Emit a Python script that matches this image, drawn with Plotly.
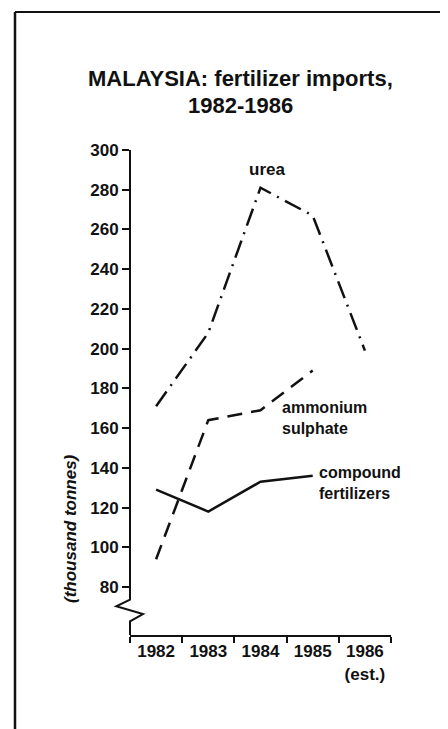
import plotly.graph_objects as go

# ---- data ----
years = ["1982", "1983", "1984", "1985", "1986<br>(est.)"]
urea = [171, 208, 281, 267, 199]
ammonium_sulphate = [94, 164, 169, 189]
compound_fertilizers = [129, 118, 133, 136]
y_ticks = [80, 100, 120, 140, 160, 180, 200, 220, 240, 260, 280, 300]

W, H = 448, 729
L, R, T, B = 122, 65, 142, 102
PW, PH = W - L - R, H - T - B
Y_MIN, Y_MAX = 55.85, 300

def px(xp):
    return (xp - L) / PW

def py(yp):
    return (H - B - yp) / PH

FONT = "Liberation Sans, Arial, sans-serif"
INK = "#111111"

fig = go.Figure()
fig.add_trace(go.Scatter(x=years, y=urea, mode="lines",
                         line=dict(color=INK, width=2.5, dash="18px,7px,2px,7px")))
fig.add_trace(go.Scatter(x=years[:len(ammonium_sulphate)], y=ammonium_sulphate, mode="lines",
                         line=dict(color=INK, width=2.5, dash="15px,9px")))
fig.add_trace(go.Scatter(x=years[:len(compound_fertilizers)], y=compound_fertilizers, mode="lines",
                         line=dict(color=INK, width=2.5)))

tickfont = dict(family=FONT, size=17, color=INK, weight="bold")

fig.update_layout(
    width=W, height=H,
    margin=dict(l=L, r=R, t=T, b=B, autoexpand=False),
    paper_bgcolor="white", plot_bgcolor="white",
    showlegend=False,
    template="none",
    xaxis=dict(type="category", range=[-0.5, 4.5], showgrid=False, zeroline=False,
               showline=True, linecolor=INK, linewidth=2,
               ticks="outside", tickson="boundaries", ticklen=6, tickwidth=1.5,
               tickcolor=INK, tickfont=tickfont, automargin=False),
    yaxis=dict(range=[Y_MIN, Y_MAX], tickvals=y_ticks, showgrid=False, zeroline=False,
               showline=False, ticks="outside", ticklen=7, tickwidth=1.5,
               tickcolor=INK, tickfont=tickfont, automargin=False),
)

# broken y-axis line with zigzag
fig.add_shape(type="path", xref="paper", yref="y",
              path=(f"M 0,{Y_MAX} L 0,73.6 L {px(108.3)},70.3 L {px(135)},66.4 "
                    f"L 0,62.75 L 0,{Y_MIN}"),
              line=dict(color=INK, width=2))

# frame
fig.add_shape(type="line", xref="paper", yref="paper", x0=px(7), x1=px(7), y0=py(4), y1=py(727),
              line=dict(color=INK, width=2.5))
fig.add_shape(type="line", xref="paper", yref="paper", x0=px(7), x1=px(447), y0=py(4), y1=py(4),
              line=dict(color=INK, width=2))
fig.add_shape(type="line", xref="paper", yref="paper", x0=px(7), x1=px(447), y0=py(727), y1=py(727),
              line=dict(color="#555555", width=1.5))
fig.add_shape(type="line", xref="paper", yref="paper", x0=px(446.5), x1=px(446.5), y0=py(4), y1=py(727),
              line=dict(color="#bbbbbb", width=1))

def ann(text, x, y, size=17, xanchor="left", italic=False, angle=0):
    fig.add_annotation(text=text, xref="paper", yref="paper", x=px(x), y=py(y),
                       xanchor=xanchor, yanchor="middle", showarrow=False, textangle=angle,
                       align=xanchor if xanchor != "center" else "center",
                       font=dict(family=FONT, size=size, color=INK, weight="bold",
                                 style="italic" if italic else "normal"))

# title
ann("MALAYSIA: fertilizer imports,", 232, 70, size=22, xanchor="center")
ann("1982-1986", 232, 97, size=22, xanchor="center")

# series labels
ann("urea", 258.5, 161, xanchor="center")
ann("ammonium<br>sulphate", 272, 410, size=16)
ann("compound<br>fertilizers", 309, 475, size=16)

# y axis title
ann("(thousand tonnes)", 62, 521, xanchor="center", italic=True, angle=-90)

fig.write_html("out.html")
